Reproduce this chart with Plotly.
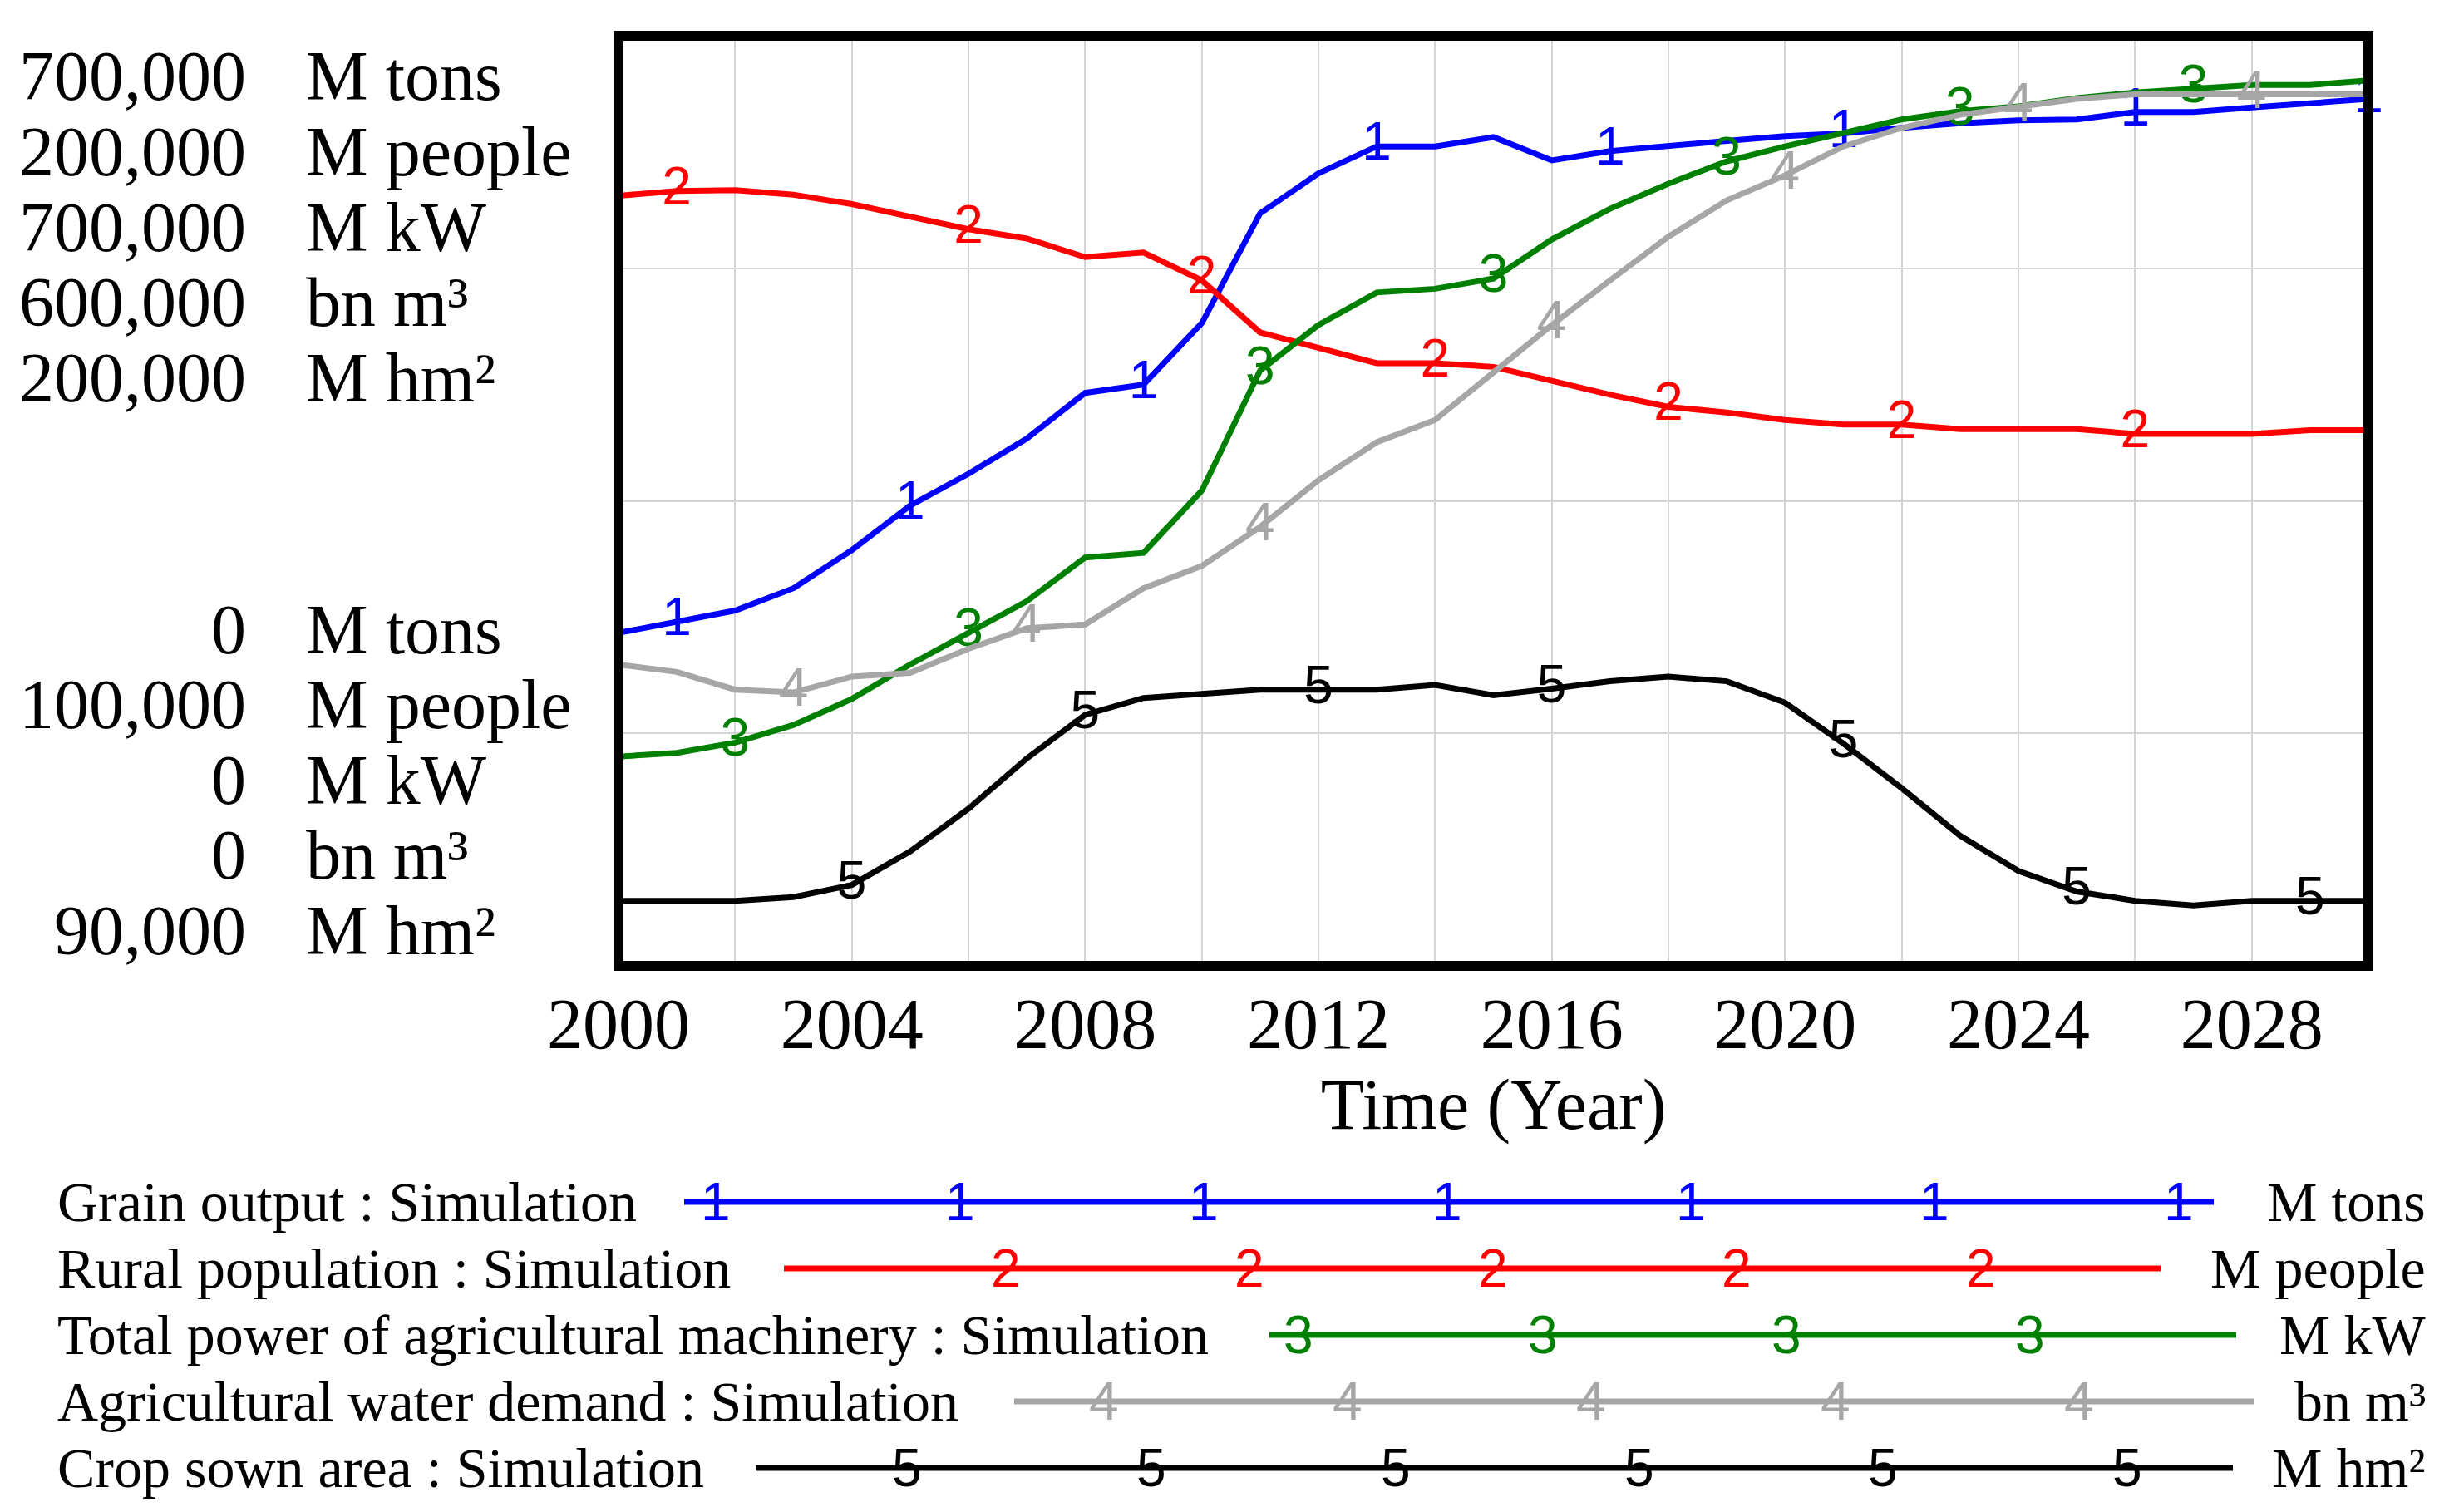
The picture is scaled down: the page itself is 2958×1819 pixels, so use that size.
import plotly.graph_objects as go

# ---------------- data ----------------
years = list(range(2000, 2031))

grain_output = [250600, 259000, 267400, 284200, 312900, 346500, 370300, 396900, 431200, 437500,
                483700, 566300, 596400, 616700, 616700, 623700, 606200, 613200, 617400, 620900,
                624400, 626500, 630700, 634200, 636300, 637000, 642600, 642600, 646100, 648900, 652400]
rural_population = [182800, 183300, 183400, 182900, 181900, 180500, 179200, 178200, 176200, 176700,
                    173700, 168100, 166400, 164800, 164800, 164400, 162900, 161400, 160100, 159500,
                    158700, 158200, 158200, 157700, 157700, 157700, 157200, 157200, 157200, 157600, 157600]
machinery_power = [157500, 160300, 168000, 181300, 200900, 226800, 250600, 274400, 307300, 310800,
                   357700, 448000, 482300, 506800, 509600, 517300, 546700, 569800, 588700, 605500,
                   616700, 627200, 637000, 643300, 646800, 653100, 657300, 660100, 662900, 662900, 666400]
water_demand = [194400, 189600, 178200, 176400, 186600, 189000, 204600, 217800, 220200, 243600,
                258000, 283200, 313200, 337800, 352200, 382800, 413400, 442200, 470400, 493800,
                510000, 528600, 540600, 549000, 553800, 559200, 562200, 562200, 562200, 562200, 562200]
crop_sown_area = [97700, 97700, 97700, 98140, 99570, 103530, 108590, 114530, 119700, 121680,
                  122120, 122670, 122670, 122670, 123220, 122010, 122780, 123660, 124210, 123660,
                  121130, 116290, 111010, 105400, 101220, 98800, 97700, 97150, 97700, 97700, 97700]

series_names = ["Grain output : Simulation", "Rural population : Simulation",
                "Total power of agricultural machinery : Simulation",
                "Agricultural water demand : Simulation", "Crop sown area : Simulation"]
series_units = ["M tons", "M people", "M kW", "bn m³", "M hm²"]
series_digits = ["1", "2", "3", "4", "5"]
axis_min = [0, 100000, 0, 0, 90000]
axis_max = [700000, 200000, 700000, 600000, 200000]
axis_min_labels = ["0", "100,000", "0", "0", "90,000"]
axis_max_labels = ["700,000", "200,000", "700,000", "600,000", "200,000"]
label_years = [
    [2001, 2005, 2009, 2013, 2017, 2021, 2026, 2030],
    [2001, 2006, 2010, 2014, 2018, 2022, 2026],
    [2002, 2006, 2011, 2015, 2019, 2023, 2027],
    [2003, 2007, 2011, 2016, 2020, 2024, 2028],
    [2004, 2008, 2012, 2016, 2021, 2025, 2029],
]
x_tick_start, x_tick_step = 2000, 4

# ---------------- style / layout ----------------
W, H = 2958, 1819          # window size
OFF = 8                    # default page body margin
FW, FH = W - 2 * OFF, H - 2 * OFF
L, R, T, B = 744, 2849, 43, 1162   # plot frame in window pixels
colors = ["#0000FF", "#FF0000", "#008000", "#A6A6A6", "#000000"]
SERIF = "Liberation Serif"
SANS = "Liberation Sans"
LW = 7
DIGIT = 64


def px(x):
    return (x - L) / (R - L)


def py(y):
    return (B - y) / (B - T)


values = [grain_output, rural_population, machinery_power, water_demand, crop_sown_area]
fig = go.Figure()
axis_ids = ["y", "y2", "y3", "y4", "y5"]
for i in range(5):
    texts = [series_digits[i] if yr in label_years[i] else "" for yr in years]
    fig.add_trace(go.Scatter(
        x=years, y=values[i], yaxis=axis_ids[i], mode="lines+text",
        text=texts, textposition="middle center",
        textfont=dict(family=SANS, size=DIGIT, color=colors[i]),
        line=dict(color=colors[i], width=LW), cliponaxis=False,
        showlegend=False, hoverinfo="skip"))

grid_col = "#D4D4D4"
layout = dict(
    width=FW, height=FH, autosize=False,
    margin=dict(l=L - OFF, r=(W - OFF) - R, t=T - OFF, b=(H - OFF) - B, pad=0),
    paper_bgcolor="white", plot_bgcolor="white",
    font=dict(family=SERIF, color="black"),
    xaxis=dict(range=[2000, 2030], tick0=x_tick_start, dtick=x_tick_step,
               showgrid=True, gridcolor=grid_col, gridwidth=1.5,
               minor=dict(dtick=2, tick0=2000, showgrid=True, gridcolor=grid_col, gridwidth=1.5),
               zeroline=False, showline=False, ticks="",
               tickfont=dict(family=SERIF, size=86, color="black"),
               ticklabelstandoff=12,
               title=dict(text="Time (Year)", font=dict(family=SERIF, size=86, color="black"),
                          standoff=18)),
    yaxis=dict(range=[axis_min[0], axis_max[0]], dtick=(axis_max[0] - axis_min[0]) / 4,
               showgrid=True, gridcolor=grid_col, gridwidth=1.5, zeroline=False,
               showticklabels=False, ticks="", showline=False),
)
for i in range(1, 5):
    layout["yaxis%d" % (i + 1)] = dict(range=[axis_min[i], axis_max[i]], overlaying="y",
                                      visible=False, showgrid=False, zeroline=False)
fig.update_layout(**layout)

# frame
fig.add_shape(type="rect", xref="paper", yref="paper", x0=0, x1=1, y0=0, y1=1,
              line=dict(color="black", width=12), layer="above")

ann = []
# left scale labels
top_rows = [91, 182, 273, 364, 454]
bot_rows = [757, 847, 938, 1028, 1119]
for i in range(5):
    for rows, labs in ((top_rows, axis_max_labels), (bot_rows, axis_min_labels)):
        ann.append(dict(x=px(298), y=py(rows[i]), xref="paper", yref="paper",
                        text=labs[i], xanchor="right", yanchor="middle", showarrow=False,
                        font=dict(family=SERIF, size=84, color="black")))
        ann.append(dict(x=px(366), y=py(rows[i]), xref="paper", yref="paper",
                        text=series_units[i], xanchor="left", yanchor="middle", showarrow=False,
                        font=dict(family=SERIF, size=84, color="black")))

# bottom legend
leg_y = [1446, 1526, 1606, 1686, 1766]
leg_x0 = [823, 943, 1527, 1220, 909]
leg_x1 = [2663, 2599, 2690, 2712, 2686]
leg_digit_x = [
    [861, 1155, 1448, 1741, 2034, 2327, 2621],
    [1210, 1503, 1796, 2089, 2383],
    [1562, 1856, 2149, 2442],
    [1328, 1621, 1914, 2208, 2501],
    [1091, 1385, 1679, 1972, 2265, 2559],
]
for i in range(5):
    fig.add_shape(type="line", xref="paper", yref="paper",
                  x0=px(leg_x0[i]), x1=px(leg_x1[i]), y0=py(leg_y[i]), y1=py(leg_y[i]),
                  line=dict(color=colors[i], width=7))
    ann.append(dict(x=px(67), y=py(leg_y[i]), xref="paper", yref="paper",
                    text=series_names[i], xanchor="left", yanchor="middle", showarrow=False,
                    font=dict(family=SERIF, size=68, color="black")))
    ann.append(dict(x=px(2920), y=py(leg_y[i]), xref="paper", yref="paper",
                    text=series_units[i], xanchor="right", yanchor="middle", showarrow=False,
                    font=dict(family=SERIF, size=68, color="black")))
    for dx in leg_digit_x[i]:
        ann.append(dict(x=px(dx), y=py(leg_y[i]), xref="paper", yref="paper",
                        text=series_digits[i], xanchor="center", yanchor="middle", showarrow=False,
                        font=dict(family=SANS, size=DIGIT, color=colors[i])))

fig.update_layout(annotations=ann)
fig.write_html("out.html")
